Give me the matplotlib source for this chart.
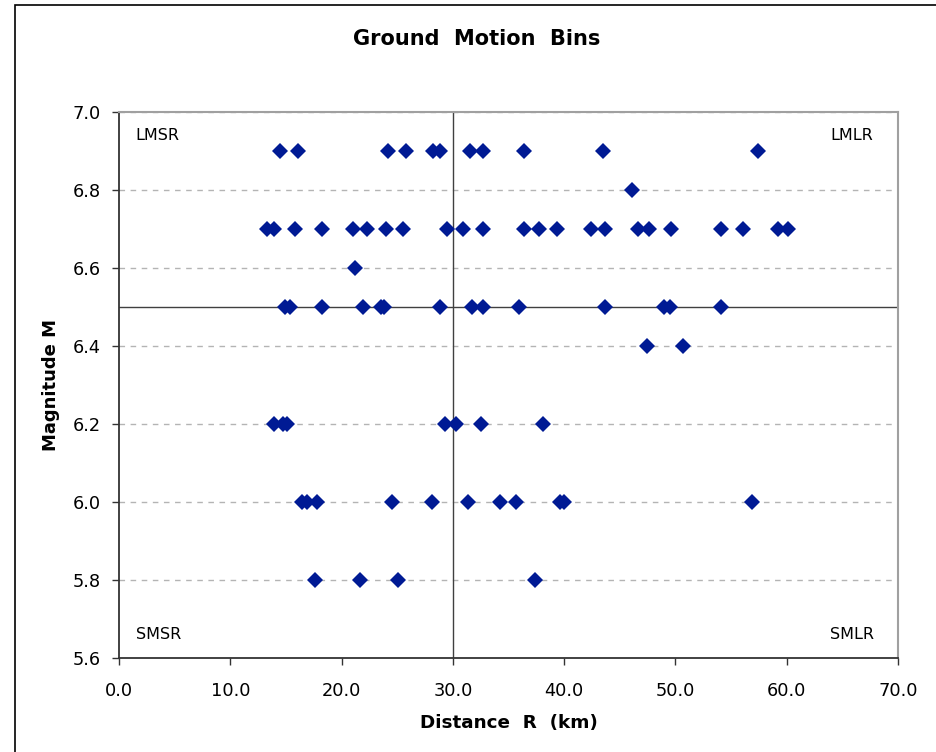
import matplotlib
matplotlib.use("Agg")
import matplotlib.pyplot as plt
from matplotlib.patches import Rectangle

# distance R (km) and magnitude M for each record
dist_69 = [14.5, 16.1, 24.2, 25.8, 28.2, 28.8, 31.5, 32.7, 36.4, 43.5, 57.4]
dist_68 = [46.1]
dist_67 = [13.3, 13.9, 15.8, 18.2, 21.0, 22.3, 24.0, 25.5, 29.5, 30.9, 32.7,
           36.4, 37.7, 39.4, 42.4, 43.7, 46.6, 47.6, 49.6, 54.1, 56.1, 59.2, 60.1]
dist_66 = [21.2]
dist_65 = [14.9, 15.4, 18.2, 21.9, 23.5, 23.8, 28.8, 31.7, 32.7, 35.9,
           43.7, 49.0, 49.5, 54.1]
dist_64 = [47.4, 50.7]
dist_62 = [13.9, 14.7, 15.1, 29.3, 30.3, 32.5, 38.1]
dist_60 = [16.4, 16.9, 17.8, 24.5, 28.1, 31.4, 34.2, 35.7, 39.6, 40.0, 56.9]
dist_58 = [17.6, 21.7, 25.1, 37.4]

rows = [(6.9, dist_69), (6.8, dist_68), (6.7, dist_67), (6.6, dist_66),
        (6.5, dist_65), (6.4, dist_64), (6.2, dist_62), (6.0, dist_60),
        (5.8, dist_58)]

R_SPLIT = 30.0
M_SPLIT = 6.5

x_ticks = [0, 10, 20, 30, 40, 50, 60, 70]
y_ticks = [5.6, 5.8, 6.0, 6.2, 6.4, 6.6, 6.8, 7.0]

plt.rcParams['font.family'] = ['DejaVu Sans']

fig = plt.figure(figsize=(9.37, 7.52), dpi=100)
ax = fig.add_axes([0.127, 0.125, 0.8314, 0.726])

# chart area border (cut off at right/bottom like the source)
fig.patches.append(Rectangle((15 / 937, -0.05), 1.2, 1 - 5 / 752 + 0.05,
                             transform=fig.transFigure, fill=False,
                             edgecolor='black', linewidth=1.2))

for yv in y_ticks[1:]:
    ax.axhline(yv, color='#b4b4b4', linestyle=(0, (4, 4)), linewidth=1.0, zorder=1)

ax.axvline(R_SPLIT, color='#404040', linewidth=1.0, zorder=2)
ax.axhline(M_SPLIT, color='#404040', linewidth=1.0, zorder=2)

xs, ys = [], []
for mag, dists in rows:
    xs.extend(dists)
    ys.extend([mag] * len(dists))
ax.plot(xs, ys, linestyle='none', marker='D', markersize=8,
        color='#001a94', markeredgewidth=0, zorder=3)

ax.set_xlim(0, 70)
ax.set_ylim(5.6, 7.0)
ax.set_xticks(x_ticks)
ax.set_xticklabels([f"{v:.1f}" for v in x_ticks])
ax.set_yticks(y_ticks)
ax.set_yticklabels([f"{v:.1f}" for v in y_ticks])
ax.tick_params(axis='both', direction='out', length=5, width=1.0,
               color='#333333', labelsize=12.8)
ax.tick_params(axis='x', pad=12)
ax.tick_params(axis='y', pad=8)

for side in ['left', 'bottom']:
    ax.spines[side].set_color('#333333')
    ax.spines[side].set_linewidth(1.3)
for side in ['top', 'right']:
    ax.spines[side].set_color('#a0a0a0')
    ax.spines[side].set_linewidth(1.5)

ax.text(1.5, 6.94, 'LMSR', fontsize=11.5, va='center', ha='left')
ax.text(67.8, 6.94, 'LMLR', fontsize=11.5, va='center', ha='right')
ax.text(1.5, 5.66, 'SMSR', fontsize=11.5, va='center', ha='left')
ax.text(67.8, 5.66, 'SMLR', fontsize=11.5, va='center', ha='right')

fig.text(477 / 937, 1 - 39 / 752, 'Ground  Motion  Bins', fontsize=15,
         fontweight='bold', ha='center', va='center')
ax.set_xlabel('Distance  R  (km)', fontsize=13.2, fontweight='bold', labelpad=10)
ax.set_ylabel('Magnitude M', fontsize=13, fontweight='bold', labelpad=9)

plt.savefig('out.png', dpi=100)
plt.close()
